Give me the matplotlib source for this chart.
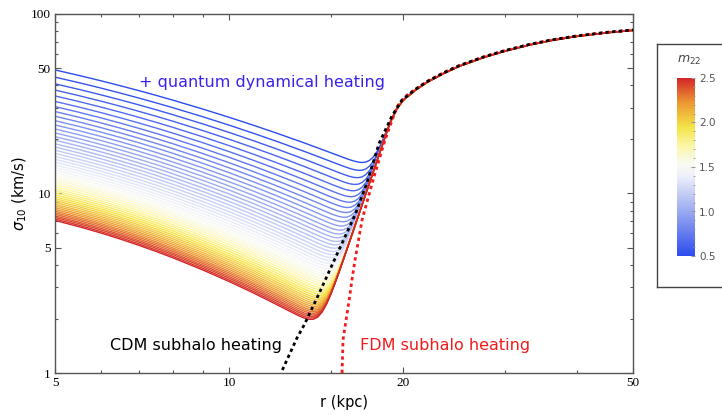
import numpy as np
import matplotlib
matplotlib.use("Agg")
import matplotlib.pyplot as plt
from matplotlib.colors import LinearSegmentedColormap, Normalize
from matplotlib.cm import ScalarMappable
from matplotlib.ticker import FixedLocator, FixedFormatter, NullFormatter

# radii (kpc) at which the heated-disc curves are tabulated
r_grid = [5, 5.5, 6, 6.5, 7, 7.5, 8, 9, 10, 11, 12, 12.5, 13, 13.25, 13.5,
          13.75, 14, 14.25, 14.5, 14.75, 15, 15.25, 15.5, 15.75, 16, 16.25,
          16.5, 16.75, 17, 17.25, 17.5, 17.75, 18, 18.25, 18.5, 18.75, 19,
          19.5, 20, 21, 22, 23.5, 25, 27.5, 30, 33, 36, 40, 45, 50]

# quantum-heating branch along the m22 = 0.5 curve (km/s)
heat_m05 = [49.0, 45.66, 42.65, 39.94, 37.49, 35.27, 33.24, 29.69, 26.70,
            24.15, 21.96, 20.97, 20.05, 19.62, 19.20, 18.79, 18.39, 18.01,
            17.64, 17.28, 16.93, 16.60, 16.27, 15.95, 15.64, 15.34, 15.05,
            14.77, 14.49, 14.22, 13.97, 13.71, 13.47, 13.23, 13.00, 12.77,
            12.55, 12.12, 11.72, 10.97, 10.29, 9.38, 8.59, 7.47, 6.55, 5.65,
            4.92, 4.14, 3.40, 2.83]

# quantum-heating branch along the m22 = 2.5 curve (km/s)
heat_m25 = [7.10, 6.554, 6.046, 5.577, 5.146, 4.753, 4.393, 3.766, 3.245,
            2.809, 2.443, 2.283, 2.136, 2.066, 2.000, 1.936, 1.874, 1.815,
            1.759, 1.705, 1.653, 1.602, 1.554, 1.507, 1.462, 1.419, 1.377,
            1.337, 1.299, 1.262, 1.226, 1.192, 1.158, 1.126, 1.095, 1.065,
            1.036, 0.981, 0.929, 0.836, 0.755, 0.650, 0.563, 0.448, 0.360,
            0.282, 0.223, 0.167, 0.119, 0.087]

# subhalo-driven rise that every heated curve follows at large radius (km/s)
rise = [0.0, 0.0, 0.0, 0.0, 0.0, 0.0, 0.007, 0.021, 0.056, 0.139, 0.318,
        0.468, 0.680, 0.814, 0.973, 1.158, 1.374, 1.626, 1.918, 2.256, 2.647,
        3.097, 3.614, 4.207, 4.886, 5.661, 6.545, 7.551, 8.691, 9.985, 11.45,
        13.10, 14.96, 17.06, 19.41, 22.05, 24.8, 29.5, 33.0, 37.6, 41.6,
        46.6, 51.1, 57.1, 62.1, 67.1, 71.1, 75.1, 78.6, 81.1]

# FDM particle masses (10^-22 eV) and the dispersion each reaches at r = 5 kpc
m22_values = [0.50, 0.54, 0.58, 0.62, 0.66, 0.70, 0.74, 0.78, 0.82, 0.86,
              0.90, 0.94, 0.98, 1.02, 1.06, 1.10, 1.14, 1.18, 1.22, 1.26,
              1.30, 1.34, 1.38, 1.42, 1.46, 1.50, 1.54, 1.58, 1.62, 1.66,
              1.70, 1.74, 1.78, 1.82, 1.86, 1.90, 1.94, 1.98, 2.02, 2.06,
              2.10, 2.14, 2.18, 2.22, 2.26, 2.30, 2.34, 2.38, 2.42, 2.46, 2.50]
sigma_at_5kpc = [48.80, 44.49, 40.84, 37.70, 34.97, 32.59, 30.49, 28.62,
                 26.95, 25.45, 24.10, 22.88, 21.76, 20.74, 19.81, 18.94,
                 18.15, 17.42, 16.73, 16.09, 15.50, 14.95, 14.43, 13.95,
                 13.49, 13.06, 12.65, 12.27, 11.91, 11.56, 11.24, 10.93,
                 10.63, 10.36, 10.09, 9.83, 9.59, 9.36, 9.14, 8.93, 8.72,
                 8.53, 8.34, 8.16, 7.98, 7.82, 7.66, 7.50, 7.36, 7.21, 7.08]

# CDM subhalo heating
r_cdm = [12.30, 13.11, 13.49, 14.30, 15.26, 16.52, 17.33, 18.18, 19.14,
         19.92, 21, 22, 23.5, 25, 27.5, 30, 33, 36, 40, 45, 50]
sig_cdm = [1.00, 1.567, 1.851, 2.75, 4.35, 7.59, 11.5, 19.0, 27.0, 33.2,
           38.0, 42.0, 47.0, 51.5, 57.5, 62.5, 67.5, 71.5, 75.5, 79.0, 81.5]

# FDM subhalo heating
r_fdm = [15.69, 15.75, 15.94, 16.14, 16.32, 16.52, 16.99, 17.75, 18.62,
         19.53, 20.2, 21, 22, 23.5, 25, 27.5, 30, 33, 36, 40, 45, 50]
sig_fdm = [1.00, 1.527, 1.97, 2.55, 3.30, 4.26, 7.12, 11.89, 19.87, 30.5,
           34.8, 38.0, 42.0, 47.0, 51.5, 57.5, 62.5, 67.5, 71.5, 75.5, 79.0,
           81.5]

# colour scale for m22
cmap_stops = [(0.00, "#2c4cee"), (0.25, "#9aaaf0"), (0.45, "#eef0fa"),
              (0.52, "#fafaf0"), (0.62, "#fbf6a8"), (0.72, "#f5e54a"),
              (0.86, "#ec9a33"), (1.00, "#d3262a")]

fig = plt.figure(figsize=(7.22, 4.15), dpi=100)
ax = fig.add_axes([55 / 722, 1 - 373 / 415, 578 / 722, 359 / 415])
ax.set_xscale("log")
ax.set_yscale("log")

cmap = LinearSegmentedColormap.from_list("temperature", cmap_stops)
norm = Normalize(0.5, 2.5)

r = np.array(r_grid)
rise_arr = np.array(rise)
shape_lo = np.log(np.array(heat_m05) / heat_m05[0])
shape_hi = np.log(np.array(heat_m25) / heat_m25[0])
log_top = np.log(sigma_at_5kpc[0])
log_bot = np.log(sigma_at_5kpc[-1])
for m, s5 in zip(m22_values, sigma_at_5kpc):
    w = (log_top - np.log(s5)) / (log_top - log_bot)
    heat = s5 * np.exp((1 - w) * shape_lo + w * shape_hi)
    total = (heat ** 4 + rise_arr ** 4) ** 0.25
    ax.plot(r, total, color=cmap(norm(m)), lw=1.0, zorder=2)

ax.plot(r_fdm, sig_fdm, color="#f21b1b", lw=2.0, ls=(0, (1.2, 1.2)), zorder=3)
ax.plot(r_cdm, sig_cdm, color="black", lw=2.0, ls=(1.2, (1.2, 1.2)), zorder=4)

ax.set_xlim(5, 50)
ax.set_ylim(1, 100)

ax.xaxis.set_major_locator(FixedLocator([5, 10, 20, 50]))
ax.xaxis.set_major_formatter(FixedFormatter(["5", "10", "20", "50"]))
ax.xaxis.set_minor_locator(FixedLocator([6, 7, 8, 9, 15, 30, 40]))
ax.xaxis.set_minor_formatter(NullFormatter())
ax.yaxis.set_major_locator(FixedLocator([1, 5, 10, 50, 100]))
ax.yaxis.set_major_formatter(FixedFormatter(["1", "5", "10", "50", "100"]))
ax.yaxis.set_minor_locator(FixedLocator([2, 3, 4, 6, 7, 8, 9, 20, 30, 40,
                                         60, 70, 80, 90]))
ax.yaxis.set_minor_formatter(NullFormatter())
for lab in ax.get_xticklabels() + ax.get_yticklabels():
    lab.set_fontfamily("Liberation Serif")
    lab.set_fontsize(9.5)
ax.tick_params(which="both", direction="in", top=True, right=True,
               color="#555555", width=0.8)
ax.tick_params(which="major", length=4.5, pad=3)
ax.tick_params(which="minor", length=2.5)
for sp in ax.spines.values():
    sp.set_color("#555555")
    sp.set_linewidth(1.0)

ax.set_xlabel("r (kpc)", fontsize=10.5, labelpad=4)
ax.set_ylabel(r"$\sigma_{10}$ (km/s)", fontsize=10.5, labelpad=1)

ax.text(7.0, 41.5, "+ quantum dynamical heating", color="#3a22f0",
        fontsize=11.5, va="center", ha="left")
ax.text(6.23, 1.42, "CDM subhalo heating", color="black", fontsize=11.5,
        va="center", ha="left")
ax.text(16.85, 1.42, "FDM subhalo heating", color="#f21b1b", fontsize=11.5,
        va="center", ha="left")

# colour key
box = fig.add_axes([657 / 722, 1 - 287 / 415, 80 / 722, 243 / 415])
box.set_xticks([])
box.set_yticks([])
for sp in box.spines.values():
    sp.set_color("#444444")
    sp.set_linewidth(1.0)
cax = fig.add_axes([677 / 722, 1 - 256 / 415, 18 / 722, 178 / 415])
cb = fig.colorbar(ScalarMappable(norm=norm, cmap=cmap), cax=cax)
cb.outline.set_linewidth(0)
cb.set_ticks([0.5, 1.0, 1.5, 2.0, 2.5])
cb.ax.yaxis.set_minor_locator(FixedLocator(np.arange(0.5, 2.51, 0.1)))
cb.ax.tick_params(which="both", direction="in", color="#999999",
                  labelcolor="#555555", labelsize=7.5, pad=3)
cb.ax.tick_params(which="major", length=3)
cb.ax.tick_params(which="minor", length=1.5)
fig.text(689 / 722, 1 - 60 / 415, r"$m_{22}$", fontsize=9, color="#444444",
         ha="center", va="center")

fig.savefig("out.png", dpi=100)
